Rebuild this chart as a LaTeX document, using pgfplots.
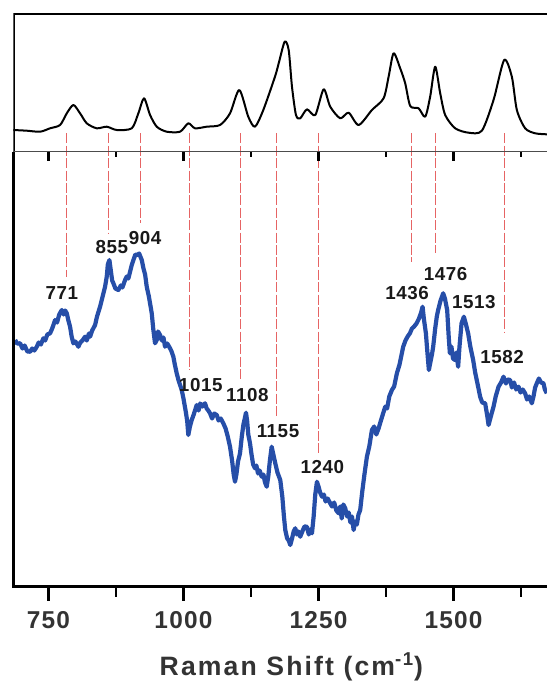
\documentclass[border=0pt]{standalone}
\usepackage{pgfplots}
\pgfplotsset{compat=1.18}
\usepackage{fontspec}
\setmainfont{Liberation Sans}
\definecolor{spblue}{RGB}{38,78,168}
\definecolor{lnred}{RGB}{230,100,100}
\begin{document}
\begin{tikzpicture}
% ---------- bottom panel (blue spectrum) ----------
\begin{axis}[
  at={(0,0)}, anchor=south west,
  scale only axis, width=266.85pt, height=217.4pt,
  xmin=685, xmax=1673, ymin=0, ymax=434.8,
  axis line style={draw=none},
  clip=false,
  ytick=\empty,
  xtick={750,1000,1250,1500},
  xticklabels={750,1000,1250,1500},
  minor xtick={875,1125,1375,1625},
  xtick pos=bottom, tick align=outside,
  major tick length=7pt, minor tick length=5pt,
  every major tick/.style={line width=1.6pt,black},
  every minor tick/.style={line width=1.1pt,black},
  xticklabel style={font=\fontsize{12.2}{12.2}\selectfont\bfseries\addfontfeatures{LetterSpace=5}, text=black!80, yshift=-2pt},
]
% red guide lines
\addplot[lnred, line width=0.5pt, dash pattern=on 5pt off 1.2pt] coordinates {(784,453.2) (784,309.8)};
\addplot[lnred, line width=0.5pt, dash pattern=on 5pt off 1.2pt] coordinates {(861,453.2) (861,353.5)};
\addplot[lnred, line width=0.5pt, dash pattern=on 5pt off 1.2pt] coordinates {(919.7,453.2) (919.7,363.8)};
\addplot[lnred, line width=0.5pt, dash pattern=on 5pt off 1.2pt] coordinates {(1012,453.2) (1012,216.5)};
\addplot[lnred, line width=0.5pt, dash pattern=on 5pt off 1.2pt] coordinates {(1106,453.2) (1106,205.5)};
\addplot[lnred, line width=0.5pt, dash pattern=on 5pt off 1.2pt] coordinates {(1173,453.2) (1173,169.8)};
\addplot[lnred, line width=0.5pt, dash pattern=on 5pt off 1.2pt] coordinates {(1250,453.2) (1250,133.5)};
\addplot[lnred, line width=0.5pt, dash pattern=on 5pt off 1.2pt] coordinates {(1421.6,453.2) (1421.6,324.8)};
\addplot[lnred, line width=0.5pt, dash pattern=on 5pt off 1.2pt] coordinates {(1467.3,453.2) (1467.3,333.5)};
\addplot[lnred, line width=0.5pt, dash pattern=on 5pt off 1.2pt] coordinates {(1593.7,453.2) (1593.7,253.5)};
% blue spectrum
\addplot[spblue, line width=2.1pt, line join=round] coordinates {
(688.4,246.5) (692,243) (697.6,243.2) (702,238) (706,241) (711,235) (716.1,234.8) (720,238) (724,236)
(728.5,239.8) (732,244) (736,242) (740.7,248.2) (744,246) (748,252) (753.1,253.2) (757,258) (762.4,266.5)
(766,264) (770,272) (774.8,276.5) (778,272) (781,276) (784,273.2) (787,266) (790.1,259.8) (793,250)
(796.2,243.2) (800,245) (805.5,239.8) (809,244) (813,246) (817.9,249.8) (821,246) (825,253) (827.1,249.8)
(831,256) (836.4,261.5) (840,270) (845.6,279.8) (849,287) (854.9,299.8) (858,310) (860,322) (862.9,326.5)
(865,318) (868,306) (870.3,303.2) (874,298) (879.5,296.5) (884,301) (887,299) (891.9,306.5) (895,310)
(898,308) (901.2,314.8) (904,321) (907.3,326.5) (911,332) (914.7,331.5) (918,333) (922.8,326.5) (926,318)
(929,312) (932,299.8) (936,290) (941.3,273.2) (944,258) (947.4,243.2) (951,247) (953,255) (956.7,251.5)
(960,246) (963,249) (965.9,239.8) (970,243) (975.2,238.2) (978,235) (981.3,229.8) (984,222) (987.5,213.2)
(991,206) (996.8,196.5) (1000,188) (1004.8,173.2) (1007,165) (1009,151.5) (1012,160) (1015.3,166.5)
(1019,172) (1024.6,181.5) (1028,176) (1031,183) (1035,180) (1039.9,183.2) (1043,178) (1046,176)
(1049.2,173.2) (1053,168) (1057,173) (1061.6,171.5) (1065,166) (1069,168) (1073.8,163.2) (1078,158)
(1082,150) (1086.2,139.8) (1090,126) (1093,112) (1095.4,104.8) (1098,112) (1101,125) (1104.7,133.2)
(1108,150) (1111,162) (1113.5,168) (1115.8,173.8) (1118,165) (1120,152) (1123.2,143.2) (1126,132)
(1129,122) (1132.4,118.2) (1135,121) (1138,113) (1141,116) (1144.8,109.8) (1148,112) (1151,104)
(1154.1,99.8) (1157,110) (1160,126) (1163.3,139.8) (1166,133) (1170,123.2) (1174,114) (1179.2,106.5)
(1183,90) (1186,70) (1188.5,56.5) (1192,48) (1195,46) (1197.7,41.5) (1201,48) (1204,55) (1207,58.2)
(1210,52) (1213,55) (1216.2,49.8) (1220,55) (1224,60) (1228.6,59.8) (1232,52) (1235,57) (1237.9,53.2)
(1241,70) (1244,92) (1247.1,104.8) (1250,100) (1253,94) (1256.4,89.8) (1260,92) (1263,85) (1267,88)
(1271.7,83.2) (1275,80) (1279,84) (1283,76) (1287.3,73.2) (1290,80) (1293,68) (1296,82) (1299.5,78.2)
(1303,70) (1306,74) (1309,64) (1312,70) (1315,56.5) (1318,65) (1321,62) (1324,72) (1327.2,76.5)
(1331,95) (1335,112) (1339.6,129.8) (1344,140) (1348.9,156.5) (1353,160) (1357,152) (1361.3,158.2)
(1365,165) (1369,172) (1373.5,179.8) (1377,178) (1381,190) (1385.9,196.5) (1390,200) (1395.1,213.2)
(1400,222) (1406.8,239.8) (1411,246) (1415,250) (1419.2,253.2) (1423,258) (1427,260) (1431.6,263.2)
(1436,268) (1440,274) (1442.7,279.8) (1445,268) (1448.8,253.2) (1451,238) (1454.3,216.5) (1457,224)
(1460,232) (1462.3,239.8) (1466,258) (1469,270) (1471.5,276.5) (1476,286) (1480.8,293.2) (1484,288)
(1488.2,276.5) (1491,250) (1493.2,233.2) (1496,240) (1499,228) (1502.4,226.5) (1505,234) (1508.5,219.8)
(1511,240) (1514.8,263.2) (1519.1,269.8) (1523,262) (1527,253.2) (1531,240) (1536.3,226.5) (1540,214)
(1545.5,199.8) (1549.2,189.8) (1553,184) (1558.5,183.2) (1562,172) (1564.8,161.5) (1568,168) (1571,174)
(1574,179.8) (1578,190) (1583.3,199.8) (1588,204) (1592.5,209.8) (1597,203) (1600,207) (1604.7,206.5)
(1608,199) (1612,204) (1616,197) (1620.3,199.8) (1624,194) (1628,197) (1632.5,193.2) (1636,187)
(1640,190) (1644.9,183.2) (1648,190) (1651,199) (1654.1,203.2) (1658,208) (1662,204) (1666.5,203.2)
(1669,197) (1672.6,193.2)};
% peak labels
\begin{scope}[every node/.style={font=\fontsize{9.4}{9.4}\selectfont\bfseries\addfontfeatures{LetterSpace=3}, text=black!90, inner sep=0pt}]
\node at (axis cs:774.8,293.5) {771};
\node at (axis cs:867.3,339.8) {855};
\node at (axis cs:928.9,348.2) {904};
\node at (axis cs:1032,201.5) {1015};
\node at (axis cs:1118.2,191.5) {1108};
\node at (axis cs:1175,155.5) {1155};
\node at (axis cs:1257.3,119.2) {1240};
\node at (axis cs:1414.2,293.2) {1436};
\node at (axis cs:1485.2,312.5) {1476};
\node at (axis cs:1537.6,284.8) {1513};
\node at (axis cs:1590,229.2) {1582};
\end{scope}
% axis lines
\draw[line width=1.5pt, black] (rel axis cs:0,1) -- (rel axis cs:0,0) -- (rel axis cs:1.02,0);
\node[font=\fontsize{13.3}{13.3}\selectfont\bfseries\addfontfeatures{LetterSpace=8}, text=black!80]
  at (rel axis cs:0.521,0) [yshift=-40.25pt] {Raman Shift (cm\textsuperscript{-1})};
\end{axis}
% ---------- top panel (black reference spectrum) ----------
\begin{axis}[
  at={(0,217.4pt)}, anchor=south west,
  scale only axis, width=266.85pt, height=69.2pt,
  xmin=685, xmax=1673, ymin=0, ymax=138.4,
  axis line style={draw=none},
  ytick=\empty,
  xtick={750,1000,1250,1500},
  xticklabels={},
  minor xtick={875,1125,1375,1625},
  xtick pos=bottom, tick align=outside,
  major tick length=4.5pt, minor tick length=2.5pt,
  every major tick/.style={line width=1.1pt,black},
  every minor tick/.style={line width=0.8pt,black},
]
\addplot[black, line width=1pt, line join=round, smooth, tension=0.45] coordinates {
(685,21.7) (710,21) (734.6,20) (753.1,23.4) (771.6,26.7) (784,38.4) (796.3,46.7) (808.6,38.4)
(821,28.4) (839.5,23.4) (858,25) (876.5,21.7) (904.3,23.4) (916.5,38.4) (927,53.4) (938.2,36.7)
(950.6,25) (969,20) (993.7,20) (1009,28.4) (1021.4,23.4) (1043,25) (1067.7,26.7) (1086.2,38.4)
(1103.4,61.7) (1120,35) (1132.4,25) (1147.8,41.7) (1169.4,75) (1176.3,88.4) (1187.4,110)
(1194.8,101.7) (1200.9,65) (1208.3,36.7) (1216.2,33.4) (1228.6,42.4) (1244,36.7) (1259.5,62.4)
(1271.7,45) (1290.2,33.4) (1305.8,39) (1324.3,26.7) (1348.9,41.7) (1370.5,53.4) (1379.8,75)
(1389,98.4) (1401.2,83.4) (1410.5,68.4) (1419.8,45.7) (1435.3,43.4) (1447.5,35) (1456.7,55)
(1466,85) (1475.3,58.4) (1484.5,36.7) (1503,23.4) (1527.8,19) (1552.4,21) (1574,51.7)
(1593.7,91.7) (1607.9,75) (1617.2,41.7) (1632.5,23.4) (1651,18.4) (1672.7,17.4)};
\draw[line width=1.5pt, black] (rel axis cs:0,-0.01) -- (rel axis cs:0,1) -- (rel axis cs:1.02,1);
\draw[line width=0.7pt, black!70] (rel axis cs:0,0) -- (rel axis cs:1.02,0);
\end{axis}
\pgfresetboundingbox
\useasboundingbox (-6.65pt,-47.75pt) rectangle (266.85pt,293.25pt);
\end{tikzpicture}
\end{document}
